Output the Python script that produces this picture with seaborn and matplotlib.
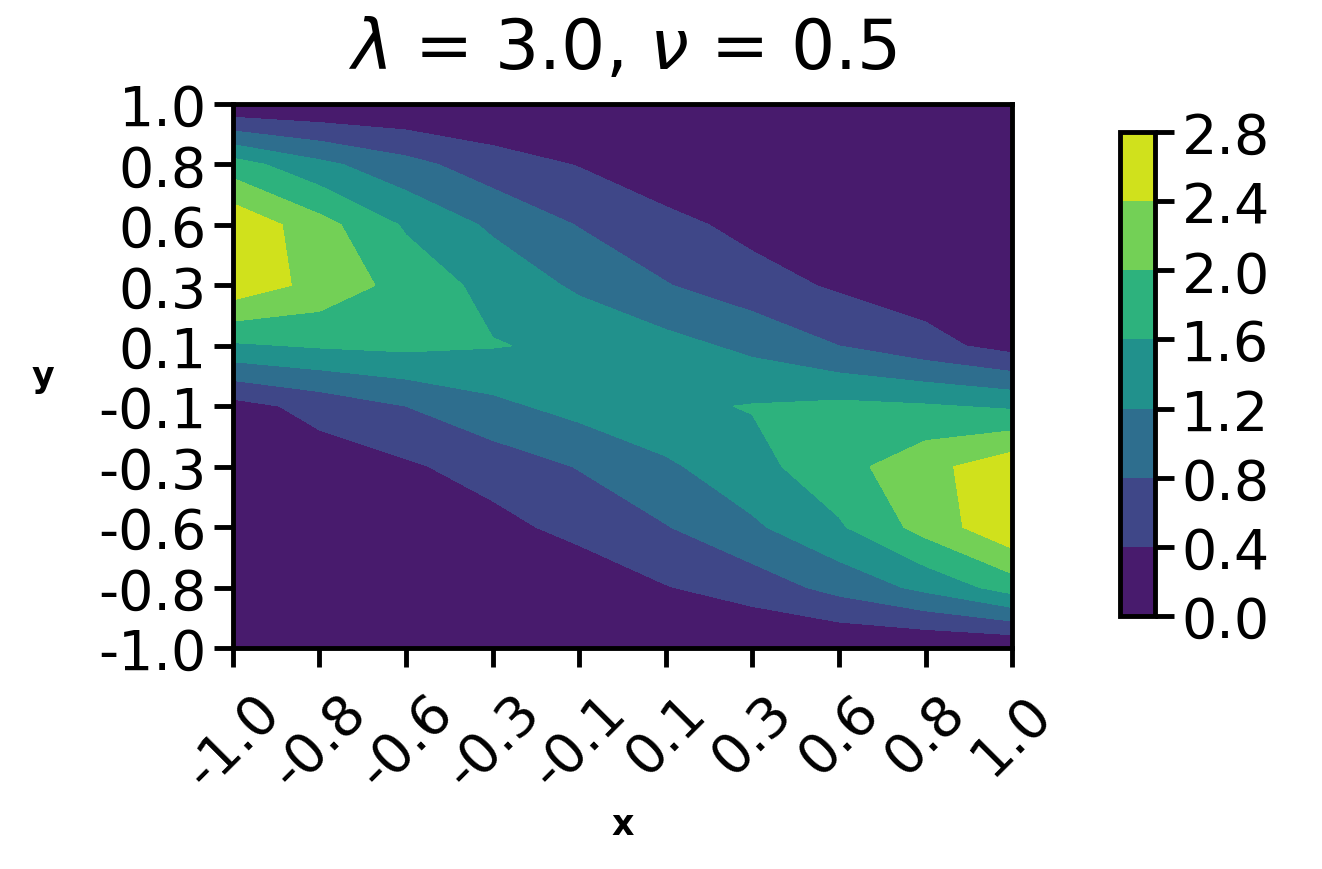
import numpy as np
import matplotlib
matplotlib.use("Agg")
import matplotlib.pyplot as plt
import seaborn as sns

# grid coordinates
x_vals = [-1.0, -0.778, -0.556, -0.333, -0.111, 0.111, 0.333, 0.556, 0.778, 1.0]
y_vals = [-1.0, -0.778, -0.556, -0.333, -0.111, 0.111, 0.333, 0.556, 0.778, 1.0]
x_tick_labels = ["-1.0", "-0.8", "-0.6", "-0.3", "-0.1", "0.1", "0.3", "0.6", "0.8", "1.0"]
y_tick_labels = ["-1.0", "-0.8", "-0.6", "-0.3", "-0.1", "0.1", "0.3", "0.6", "0.8", "1.0"]
levels = [0.0, 0.4, 0.8, 1.2, 1.6, 2.0, 2.4, 2.8]
level_labels = ["0.0", "0.4", "0.8", "1.2", "1.6", "2.0", "2.4", "2.8"]

# z values, one row per y value (from y = -1.0 up to y = 1.0), columns follow x_vals
z_y_m100 = [0.00, 0.00, 0.00, 0.00, 0.00, 0.00, 0.00, 0.00, 0.00, 0.01]
z_y_m078 = [0.01, 0.02, 0.05, 0.08, 0.10, 0.38, 0.58, 0.93, 1.30, 1.78]
z_y_m056 = [0.02, 0.05, 0.10, 0.27, 0.53, 0.78, 1.13, 1.55, 2.15, 2.73]
z_y_m033 = [0.05, 0.20, 0.34, 0.57, 0.82, 1.13, 1.47, 1.85, 2.27, 2.67]
z_y_m011 = [0.25, 0.53, 0.80, 1.10, 1.34, 1.53, 1.62, 1.69, 1.64, 1.54]
z_y_p011 = [1.54, 1.64, 1.69, 1.62, 1.53, 1.34, 1.10, 0.80, 0.53, 0.25]
z_y_p033 = [2.67, 2.27, 1.85, 1.47, 1.13, 0.82, 0.57, 0.34, 0.20, 0.05]
z_y_p056 = [2.73, 2.15, 1.55, 1.13, 0.78, 0.53, 0.27, 0.10, 0.05, 0.02]
z_y_p078 = [1.78, 1.30, 0.93, 0.58, 0.38, 0.10, 0.08, 0.05, 0.02, 0.01]
z_y_p100 = [0.01, 0.00, 0.00, 0.00, 0.00, 0.00, 0.00, 0.00, 0.00, 0.00]

Z = np.array([z_y_m100, z_y_m078, z_y_m056, z_y_m033, z_y_m011,
              z_y_p011, z_y_p033, z_y_p056, z_y_p078, z_y_p100])

sns.set_style("ticks")
plt.rcParams["font.family"] = ["DejaVu Sans"]
plt.rcParams.update({
    "text.color": "black",
    "axes.labelcolor": "black",
    "xtick.color": "black",
    "ytick.color": "black",
    "axes.edgecolor": "black",
})

fig = plt.figure(figsize=(13.22, 8.70), dpi=100)
ax = fig.add_axes([233 / 1322, 1 - 649 / 870, (1012 - 233) / 1322, (649 - 105) / 870])
cax = fig.add_axes([1120 / 1322, 1 - 617 / 870, 35 / 1322, (617 - 133) / 870])

cmap = sns.color_palette("viridis", as_cmap=True)
cs = ax.contourf(x_vals, y_vals, Z, levels=levels, cmap=cmap)

ax.set_xticks(x_vals)
ax.set_xticklabels(x_tick_labels, rotation=45)
ax.set_yticks(y_vals)
ax.set_yticklabels(y_tick_labels)
ax.tick_params(axis="both", which="major", labelsize=40, length=14, width=3.5,
               color="black", labelcolor="black", direction="out", pad=5)
ax.tick_params(axis="x", pad=12)
for sp in ax.spines.values():
    sp.set_linewidth(3.5)
    sp.set_color("black")

ax.set_xlabel("x", fontsize=25, fontweight="bold", labelpad=6)
ax.set_ylabel("y", fontsize=25, fontweight="bold", rotation=0, labelpad=40, va="center")
ax.set_title(r"$\lambda$ = 3.0, $\nu$ = 0.5", fontsize=50, pad=26)

cb = fig.colorbar(cs, cax=cax)
cb.set_ticks(levels)
cb.set_ticklabels(level_labels)
cb.ax.tick_params(labelsize=40, length=14, width=3.5, color="black", labelcolor="black", pad=5)
cb.outline.set_linewidth(3.5)
cb.outline.set_edgecolor("black")

fig.savefig("out.png", dpi=100)
